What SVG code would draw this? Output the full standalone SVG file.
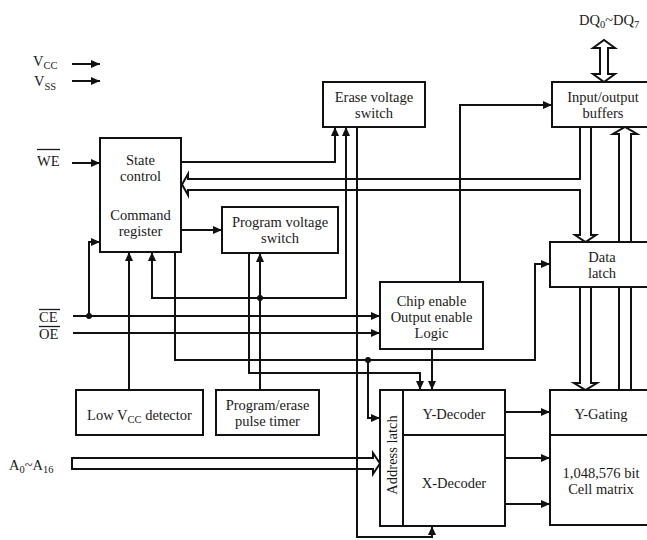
<svg xmlns="http://www.w3.org/2000/svg" width="647" height="540" viewBox="0 0 647 540">
<style>
  .box { fill: #fff; stroke: #111; stroke-width: 2; }
  .ln { fill: none; stroke: #111; stroke-width: 2; }
  .arr { fill: none; stroke: #111; stroke-width: 2; marker-end: url(#ah); }
  .bus { fill: none; stroke: #111; stroke-width: 2; stroke-linejoin: miter; }
  .dot { fill: #111; }
  text { font-family: "Liberation Serif", "Times New Roman", serif; font-size: 14.5px; fill: #1a1a1a; }
  .c { text-anchor: middle; }
  .sub { font-size: 10.5px; }
  .ov { stroke: #1a1a1a; stroke-width: 1.3; }
</style>
<defs>
  <marker id="ah" markerUnits="userSpaceOnUse" markerWidth="9" markerHeight="8" viewBox="0 0 9 8" refX="9" refY="4" orient="auto">
    <path d="M0,0 L9,4 L0,8 z" fill="#111"/>
  </marker>
</defs>
<rect width="647" height="540" fill="#fff"/>

<g id="connectors">
  <path class="arr" d="M72,64 H100"/>
  <path class="arr" d="M72,81 H100"/>
  <path class="arr" d="M72,163 H100"/>
  <path class="arr" d="M73,316 H380"/>
  <path class="arr" d="M73,333 H380"/>
  <path class="arr" d="M89,316 V242 H100"/>
  <circle class="dot" cx="89" cy="316" r="3"/>
  <path class="arr" d="M181,162 H335 V127"/>
  <path class="arr" d="M181,230 H222"/>
  <path class="arr" d="M260,390 V253"/>
  <path class="arr" d="M260,298 H152 V252"/>
  <path class="arr" d="M260,298 H346 V127"/>
  <circle class="dot" cx="260" cy="298" r="3"/>
  <path class="arr" d="M357,127 V537 H432 V526"/>
  <path class="arr" d="M249,253 V373 H420 V390"/>
  <path class="arr" d="M129,390 V252"/>
  <path class="arr" d="M175,252 V360 H535 V264 H550"/>
  <path class="arr" d="M368,360 V418 H380"/>
  <circle class="dot" cx="368" cy="360" r="3"/>
  <path class="arr" d="M432,349 V390"/>
  <path class="arr" d="M460,282 V105 H552"/>
  <path class="arr" d="M505,412 H550"/>
  <path class="arr" d="M505,458 H550"/>
  <path class="arr" d="M505,504 H550"/>
  <path class="bus" d="M580,127 V179 H188 V174 L182,184.5 L188,195 V190 H580 V235 H575 L585.5,242 L596,235 H591 V127"/>
  <path class="bus" d="M580,287 V383 H574 L585.5,390 L597,383 H591 V287"/>
  <path class="bus" d="M619,390 V134 H613 L625,127 L637,134 H631 V390"/>
  <path class="bus" d="M600,48 H593 L604,40 L615,48 H608 V74 H615 L604,82 L593,74 H600 Z"/>
  <path class="bus" d="M72,458 H373 V453 L380,463.5 L373,474 V469 H72 Z"/>
</g>

<g id="labels">
  <text x="33" y="66">V<tspan class="sub" dy="3">CC</tspan></text>
  <text x="34" y="86">V<tspan class="sub" dy="4">SS</tspan></text>
  <text x="37" y="166">WE</text>
  <line class="ov" x1="37" y1="149.5" x2="60" y2="149.5"/>
  <text x="39" y="322">CE</text>
  <line class="ov" x1="39" y1="309.5" x2="60" y2="309.5"/>
  <text x="39" y="339">OE</text>
  <line class="ov" x1="39" y1="326.5" x2="60" y2="326.5"/>
  <text x="9" y="470">A<tspan class="sub" dy="3">0</tspan><tspan dy="-3">~A</tspan><tspan class="sub" dy="3">16</tspan></text>
  <text x="579" y="25">DQ<tspan class="sub" dy="3">0</tspan><tspan dy="-3">~DQ</tspan><tspan class="sub" dy="3">7</tspan></text>
</g>

<g id="state-command">
  <rect class="box" x="100" y="138" width="81" height="114"/>
  <text class="c" x="140.5" y="165">State</text>
  <text class="c" x="140.5" y="181">control</text>
  <text class="c" x="140.5" y="220">Command</text>
  <text class="c" x="140.5" y="236">register</text>
</g>

<g id="erase-voltage-switch">
  <rect class="box" x="323" y="82" width="102" height="45"/>
  <text class="c" x="374" y="101.5">Erase voltage</text>
  <text class="c" x="374" y="117.5">switch</text>
</g>

<g id="io-buffers">
  <rect class="box" x="552" y="82" width="100" height="45"/>
  <text class="c" x="603" y="101.5">Input/output</text>
  <text class="c" x="603" y="117.5">buffers</text>
</g>

<g id="program-voltage-switch">
  <rect class="box" x="222" y="207" width="116" height="46"/>
  <text class="c" x="280" y="227">Program voltage</text>
  <text class="c" x="280" y="243">switch</text>
</g>

<g id="data-latch">
  <rect class="box" x="550" y="242" width="102" height="45"/>
  <text class="c" x="602" y="261.5">Data</text>
  <text class="c" x="602" y="277.5">latch</text>
</g>

<g id="chip-enable-logic">
  <rect class="box" x="380" y="282" width="103" height="67"/>
  <text class="c" x="431.5" y="306">Chip enable</text>
  <text class="c" x="431.5" y="322">Output enable</text>
  <text class="c" x="431.5" y="338">Logic</text>
</g>

<g id="low-vcc-detector">
  <rect class="box" x="76" y="390" width="127" height="45"/>
  <text class="c" x="139.5" y="420">Low V<tspan class="sub" dy="3">CC</tspan><tspan dy="-3"> detector</tspan></text>
</g>

<g id="pulse-timer">
  <rect class="box" x="216" y="390" width="103" height="45"/>
  <text class="c" x="267.5" y="409.5">Program/erase</text>
  <text class="c" x="267.5" y="425.5">pulse timer</text>
</g>

<g id="decoders">
  <rect class="box" x="380" y="390" width="125" height="136"/>
  <line class="ln" x1="403" y1="390" x2="403" y2="526"/>
  <line class="ln" x1="403" y1="435" x2="505" y2="435"/>
  <text class="c" transform="translate(397,455) rotate(-90)" x="0" y="0">Address latch</text>
  <text class="c" x="454" y="419">Y-Decoder</text>
  <text class="c" x="454" y="488">X-Decoder</text>
</g>

<g id="gating-matrix">
  <rect class="box" x="550" y="390" width="102" height="135"/>
  <line class="ln" x1="550" y1="435" x2="652" y2="435"/>
  <text class="c" x="601" y="419">Y-Gating</text>
  <text class="c" x="601" y="478">1,048,576 bit</text>
  <text class="c" x="601" y="494">Cell matrix</text>
</g>
</svg>
